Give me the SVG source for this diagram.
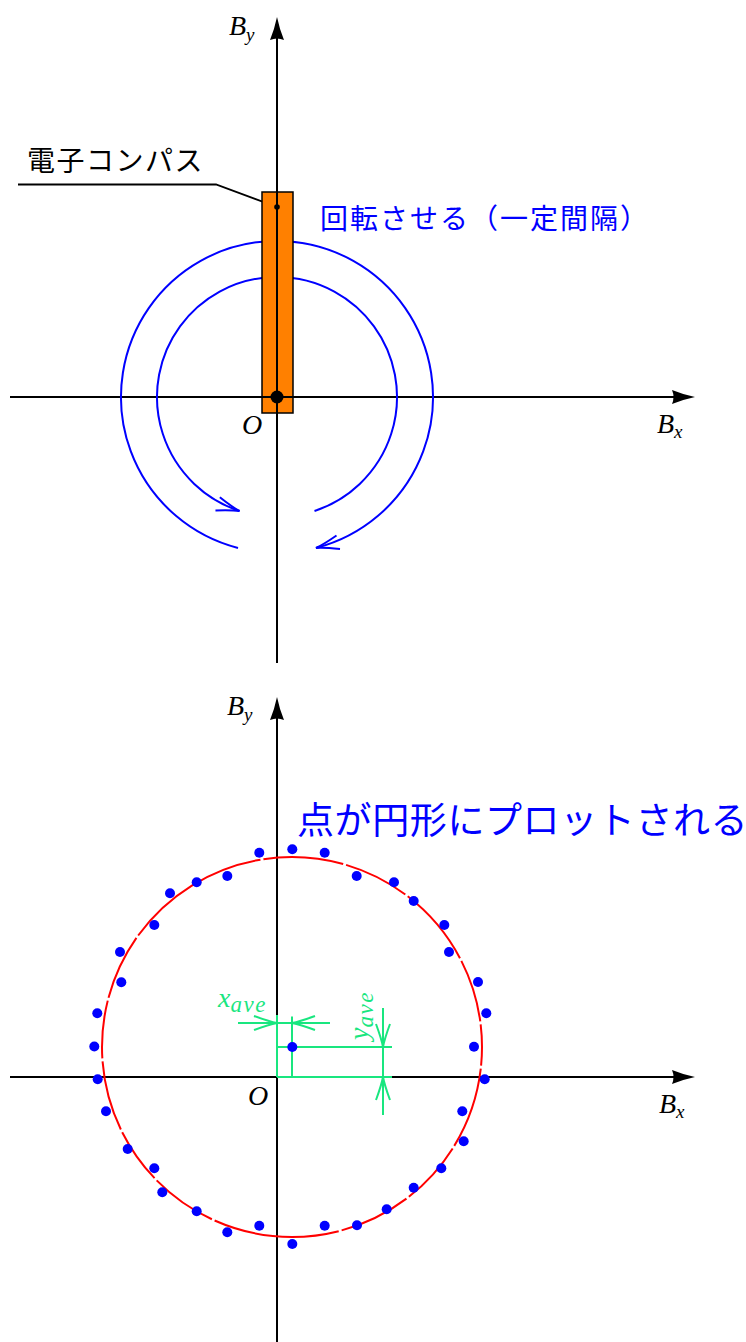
<svg xmlns="http://www.w3.org/2000/svg" width="746" height="1342" viewBox="0 0 746 1342">
<style>
.ax{stroke:#000;stroke-width:2;fill:none}
.blue{stroke:#0000ff;stroke-width:2;fill:none}
.grn{stroke:#19e67f;stroke-width:2;fill:none}
.math{font-family:"Liberation Serif","DejaVu Serif",serif;font-style:italic;font-size:28px;fill:#000}
.sub{font-size:19px}
.gtxt{fill:#19e67f}
.gsub{font-size:23px;letter-spacing:1.5px}
.jp{font-family:"Noto Sans CJK JP","Noto Sans CJK SC",sans-serif}
.dot{fill:#0000ff}
</style>
<defs>
<marker id="axArrow" markerUnits="userSpaceOnUse" viewBox="0 0 24 14" markerWidth="24" markerHeight="14" refX="13" refY="7" orient="auto">
<path d="M23 7 Q11 4.5 0 0 Q3 7 0 14 Q11 9.5 23 7 Z" fill="#000"/>
</marker>
<marker id="blueArrow" markerUnits="userSpaceOnUse" viewBox="-26 -9 28 18" markerWidth="28" markerHeight="18" refX="0" refY="0" orient="auto">
<path d="M-23 -7 Q-8 -1.5 0 0 Q-8 1.5 -23 7" fill="none" stroke="#0000ff" stroke-width="2"/>
</marker>
<marker id="grnArrow" markerUnits="userSpaceOnUse" viewBox="-26 -9 28 18" markerWidth="28" markerHeight="18" refX="0" refY="0" orient="auto">
<path d="M-23 -7 Q-8 -1.5 0 0 Q-8 1.5 -23 7" fill="none" stroke="#19e67f" stroke-width="2"/>
</marker>
</defs>

<!-- ===== Top diagram ===== -->
<g id="top-axes">
<path class="ax" d="M10 397 H685" marker-end="url(#axArrow)"/>
<path class="ax" d="M277 663 V27" marker-end="url(#axArrow)"/>
<text class="math" x="229" y="35">B<tspan class="sub" dy="6">y</tspan></text>
<text class="math" x="657" y="433">B<tspan class="sub" dy="5">x</tspan></text>
<text class="math" x="242" y="434">O</text>
</g>

<g id="connectors">
<path class="blue" d="M314.5 511 A120 120 0 1 0 239.5 511" marker-end="url(#blueArrow)"/>
<path class="blue" d="M238 548 A156 156 0 1 1 316 548" marker-end="url(#blueArrow)"/>
<path d="M18 184.5 H216 L277 207" fill="none" stroke="#000" stroke-width="1.8"/>
</g>

<g id="compass">
<rect x="262" y="192" width="31" height="221" fill="#ff8000" stroke="#000" stroke-width="1.5"/>
<line x1="277" y1="192" x2="277" y2="413" stroke="#000" stroke-width="2"/>
<line x1="262" y1="397" x2="293" y2="397" stroke="#000" stroke-width="2"/>
<circle cx="277" cy="397" r="6.5" fill="#000"/>
<circle cx="277" cy="207" r="2.8" fill="#000"/>
</g>

<g id="label-compass">
<text class="jp" x="27" y="171" font-size="28" letter-spacing="1.5" fill="#000">電子コンパス</text>
</g>
<g id="label-rotate">
<text class="jp" x="320" y="229" font-size="28" letter-spacing="2" fill="#0000ff">回転させる（一定間隔）</text>
</g>

<!-- ===== Bottom diagram ===== -->
<g id="bottom-axes">
<path class="ax" d="M10 1077 H685" marker-end="url(#axArrow)"/>
<path class="ax" d="M277 1342 V707" marker-end="url(#axArrow)"/>
<text class="math" x="227" y="715">B<tspan class="sub" dy="6">y</tspan></text>
<text class="math" x="659" y="1113">B<tspan class="sub" dy="5">x</tspan></text>
<text class="math" x="248" y="1105">O</text>
</g>

<g id="fit-circle">
<path d="M482 1047 A190 190 0 1 1 102 1047 A190 190 0 1 1 482 1047" pathLength="1193.8" fill="none" stroke="#ff0000" stroke-width="2" stroke-dasharray="18.7 3 82.3 3 65.6 3 72.6 3 127 3 67.9 3 56.4 3 70.9 3 58.4 3 66.3 3 147.5 3 80.6 3 66.6 3 81.6 3 63.7 3 22.7 0"/>
</g>

<g id="data-points">
<circle class="dot" cx="259.3" cy="852.7" r="5"/>
<circle class="dot" cx="292.3" cy="849.3" r="5"/>
<circle class="dot" cx="324.7" cy="852.7" r="5"/>
<circle class="dot" cx="356.7" cy="876" r="5"/>
<circle class="dot" cx="394" cy="882.3" r="5"/>
<circle class="dot" cx="413.7" cy="901" r="5"/>
<circle class="dot" cx="444.3" cy="925" r="5"/>
<circle class="dot" cx="449" cy="952" r="5"/>
<circle class="dot" cx="478" cy="982" r="5"/>
<circle class="dot" cx="486.3" cy="1013.3" r="5"/>
<circle class="dot" cx="474" cy="1046.7" r="5"/>
<circle class="dot" cx="484.7" cy="1079.3" r="5"/>
<circle class="dot" cx="462.3" cy="1111.3" r="5"/>
<circle class="dot" cx="463.7" cy="1141.3" r="5"/>
<circle class="dot" cx="441.3" cy="1168.3" r="5"/>
<circle class="dot" cx="413.7" cy="1187.7" r="5"/>
<circle class="dot" cx="386.7" cy="1209.3" r="5"/>
<circle class="dot" cx="357" cy="1225.3" r="5"/>
<circle class="dot" cx="324.7" cy="1225.7" r="5"/>
<circle class="dot" cx="292.3" cy="1244" r="5"/>
<circle class="dot" cx="259.3" cy="1225.7" r="5"/>
<circle class="dot" cx="227.3" cy="1232.3" r="5"/>
<circle class="dot" cx="196.7" cy="1211.3" r="5"/>
<circle class="dot" cx="162.3" cy="1192.3" r="5"/>
<circle class="dot" cx="154.3" cy="1168.3" r="5"/>
<circle class="dot" cx="127.7" cy="1149" r="5"/>
<circle class="dot" cx="106" cy="1111.3" r="5"/>
<circle class="dot" cx="97.7" cy="1079.3" r="5"/>
<circle class="dot" cx="94.3" cy="1046.5" r="5"/>
<circle class="dot" cx="97.3" cy="1013.3" r="5"/>
<circle class="dot" cx="121.3" cy="982.3" r="5"/>
<circle class="dot" cx="120" cy="952" r="5"/>
<circle class="dot" cx="154.3" cy="925" r="5"/>
<circle class="dot" cx="170" cy="893.3" r="5"/>
<circle class="dot" cx="196.7" cy="882.3" r="5"/>
<circle class="dot" cx="227.3" cy="876" r="5"/>
</g>

<g id="dimensions">
<path class="grn" d="M277 1015 V1077"/>
<path class="grn" d="M292 1016.5 V1077"/>
<path class="grn" d="M277 1047 H392"/>
<path class="grn" d="M277 1077 H392"/>
<path class="grn" d="M238 1023 H277" marker-end="url(#grnArrow)"/>
<path class="grn" d="M330 1023 H292" marker-end="url(#grnArrow)"/>
<path class="grn" d="M277 1023 H292"/>
<path class="grn" d="M383 1008 V1047" marker-end="url(#grnArrow)"/>
<path class="grn" d="M383 1115 V1077" marker-end="url(#grnArrow)"/>
<path class="grn" d="M383 1047 V1077"/>
<text class="math gtxt" x="218" y="1007">x<tspan class="gsub" dy="5">ave</tspan></text>
<text class="math gtxt" transform="translate(368 1040) rotate(-90)">y<tspan class="gsub" dy="5">ave</tspan></text>
</g>

<g id="center-point">
<circle class="dot" cx="292.3" cy="1047" r="5"/>
</g>

<g id="label-plot">
<text class="jp" x="297" y="834" font-size="37" letter-spacing="0.6" fill="#0000ff">点が円形にプロットされる</text>
</g>
</svg>
